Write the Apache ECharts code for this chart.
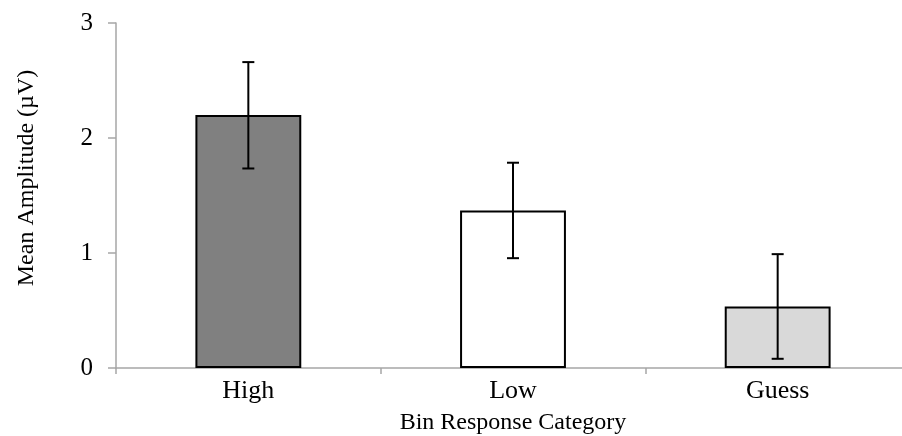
<!DOCTYPE html>
<html>
<head>
<meta charset="utf-8">
<script src="https://cdn.jsdelivr.net/npm/echarts@6/dist/echarts.min.js"></script>
<style>
  html, body { margin: 0; padding: 0; background: #fff; }
  #chart { width: 902px; height: 436px; }
</style>
</head>
<body>
<div id="chart"></div>
<script>
// Bin response categories and their mean amplitudes (µV)
const categories = ['High', 'Low', 'Guess'];
const meanValues = [2.2, 1.37, 0.535];
// Error bar ends (lower, upper)
const errLow = [1.735, 0.955, 0.08];
const errHigh = [2.66, 1.785, 0.99];
const barColors = ['#808080', '#ffffff', '#d9d9d9'];
const yTicks = [0, 1, 2, 3];

const font = '"Liberation Serif", "Times New Roman", serif';
const axisGray = '#a6a6a6';
const chart = echarts.init(document.getElementById('chart'));

chart.setOption({
  animation: false,
  grid: {
    left: 116, top: 23, width: 794, height: 345,
    containLabel: false, outerBoundsMode: 'none'
  },
  xAxis: {
    type: 'category',
    data: categories,
    name: 'Bin Response Category',
    nameLocation: 'middle',
    nameGap: 43,
    nameTextStyle: { color: '#000', fontFamily: font, fontSize: 24 },
    axisLine: { lineStyle: { color: axisGray, width: 1.5 } },
    axisTick: { show: true, length: 6, lineStyle: { color: axisGray, width: 1.5 } },
    axisLabel: { color: '#000', fontFamily: font, fontSize: 26, margin: 10 }
  },
  yAxis: {
    type: 'value',
    min: yTicks[0],
    max: yTicks[yTicks.length - 1],
    interval: 1,
    splitLine: { show: false },
    axisLine: { show: true, lineStyle: { color: axisGray, width: 1.5 } },
    axisTick: { show: true, length: 8, lineStyle: { color: axisGray, width: 1.5 } },
    axisLabel: { color: '#000', fontFamily: font, fontSize: 25, margin: 23 }
  },
  graphic: [
    {
      type: 'text',
      x: 27, y: 178,
      rotation: Math.PI / 2,
      style: {
        text: 'Mean Amplitude (µV)',
        font: '24px ' + font,
        fill: '#000',
        textAlign: 'center', textVerticalAlign: 'middle'
      }
    }
  ],
  series: [
    {
      type: 'bar',
      barWidth: '40%',
      data: meanValues.map((v, i) => ({
        value: v,
        itemStyle: { color: barColors[i], borderColor: '#000', borderWidth: 2 }
      }))
    },
    {
      type: 'custom',
      data: categories.map((c, i) => [i, errLow[i], errHigh[i]]),
      renderItem: function (params, api) {
        const lo = api.coord([api.value(0), api.value(1)]);
        const hi = api.coord([api.value(0), api.value(2)]);
        const half = 6;
        const style = { stroke: '#000', lineWidth: 2 };
        return {
          type: 'group',
          children: [
            { type: 'line', shape: { x1: hi[0], y1: hi[1], x2: lo[0], y2: lo[1] }, style: style },
            { type: 'line', shape: { x1: hi[0] - half, y1: hi[1], x2: hi[0] + half, y2: hi[1] }, style: style },
            { type: 'line', shape: { x1: lo[0] - half, y1: lo[1], x2: lo[0] + half, y2: lo[1] }, style: style }
          ]
        };
      },
      z: 10
    }
  ]
});
</script>
</body>
</html>
